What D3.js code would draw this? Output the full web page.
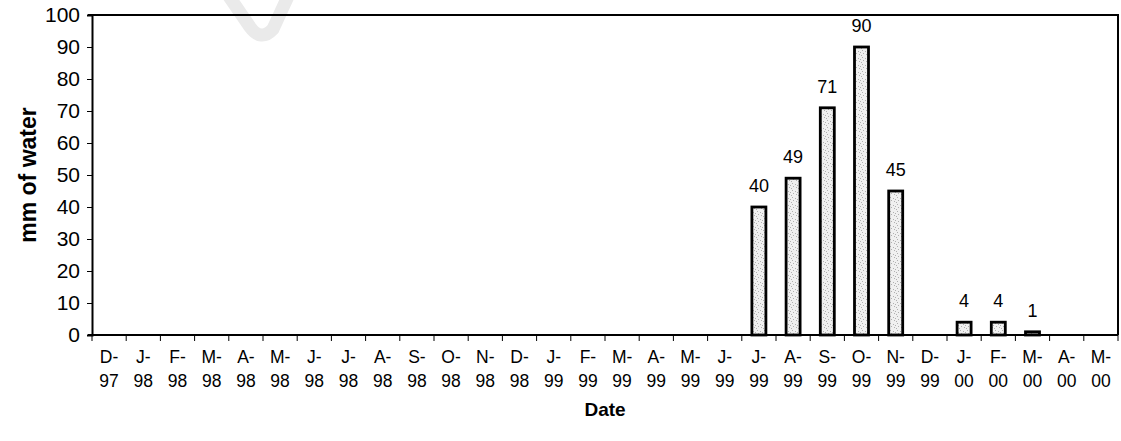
<!DOCTYPE html>
<html>
<head>
<meta charset="utf-8">
<script src="https://cdn.jsdelivr.net/npm/d3@7"></script>
<style>
  html, body { margin: 0; padding: 0; background: #fff; }
  svg { display: block; font-family: "Liberation Sans", Arial, sans-serif; }
</style>
</head>
<body>
<svg id="chart" width="1121" height="441"></svg>
<script>
// Monthly water applied, Dec 1997 – May 2000
const monthLetters = ["D","J","F","M","A","M","J","J","A","S","O","N",
                      "D","J","F","M","A","M","J","J","A","S","O","N",
                      "D","J","F","M","A","M"];
const yearLabels = ["97","98","98","98","98","98","98","98","98","98","98","98",
                    "98","99","99","99","99","99","99","99","99","99","99","99",
                    "99","00","00","00","00","00"];
const waterMm = [null,null,null,null,null,null,null,null,null,null,null,null,
                 null,null,null,null,null,null,null,40,49,71,90,45,
                 null,4,4,1,null,null];
const yTicks = [0,10,20,30,40,50,60,70,80,90,100];

const categories = monthLetters.map((m, i) => i);

const svg = d3.select("#chart");
const margin = { left: 92, right: 3, top: 15, bottom: 106 };
const W = 1121, H = 441;
const x0 = margin.left, x1 = W - margin.right;
const y0 = H - margin.bottom, y1 = margin.top;

const x = d3.scaleBand().domain(categories).range([x0, x1]).paddingInner(0).paddingOuter(0);
const y = d3.scaleLinear().domain([0, 100]).range([y0, y1]);

// stippled fill for the bars
const defs = svg.append("defs");
const pat = defs.append("pattern").attr("id", "stipple")
  .attr("patternUnits", "userSpaceOnUse").attr("width", 7).attr("height", 7);
pat.append("rect").attr("width", 7).attr("height", 7).attr("fill", "#f0f0f0");
[[1,1],[4,2],[2,4],[5,5],[0,6],[6,3]].forEach(([a,b]) =>
  pat.append("rect").attr("x", a).attr("y", b).attr("width", 1).attr("height", 1).attr("fill", "#b0b0b0"));

// faint paper mark near the top
svg.append("path")
  .attr("d", "M226,-8 L250,27 Q261,42 273,29 L290,-8")
  .attr("fill", "none").attr("stroke", "#eaeaea").attr("stroke-width", 13)
  .attr("stroke-linecap", "round");

// plot frame: top and right edges
svg.append("path")
  .attr("d", `M${x0 - 4},${y1} H${x1} V${y0}`)
  .attr("fill", "none").attr("stroke", "#000").attr("stroke-width", 2);

// bars
const barW = 14;
const data = categories.filter(i => waterMm[i] != null);
svg.append("g").selectAll("rect").data(data).join("rect")
  .attr("x", i => x(i) + x.bandwidth() / 2 - barW / 2)
  .attr("y", i => y(waterMm[i]))
  .attr("width", barW)
  .attr("height", i => y(0) - y(waterMm[i]))
  .attr("fill", "url(#stipple)")
  .attr("stroke", "#000").attr("stroke-width", 2.8);

// value labels
svg.append("g").selectAll("text").data(data).join("text")
  .attr("x", i => x(i) + x.bandwidth() / 2)
  .attr("y", i => y(waterMm[i]) - 15)
  .attr("text-anchor", "middle")
  .attr("font-size", 18)
  .text(i => waterMm[i]);

// y axis
const yAxis = svg.append("g").attr("transform", `translate(${x0},0)`)
  .call(d3.axisLeft(y).tickValues(yTicks).tickSize(5).tickPadding(7));
yAxis.select(".domain").attr("stroke-width", 2);
yAxis.selectAll("text").attr("font-size", 21).attr("font-family", "Liberation Sans, Arial, sans-serif");

// x axis with ticks on category boundaries
const xg = svg.append("g").attr("transform", `translate(0,${y0})`);
xg.append("line").attr("x1", x0 - 4).attr("x2", x1).attr("y1", 0).attr("y2", 0)
  .attr("stroke", "#000").attr("stroke-width", 2);
xg.selectAll("line.tick").data(categories.concat([categories.length])).join("line")
  .attr("class", "tick")
  .attr("x1", i => i < categories.length ? x(i) : x1)
  .attr("x2", i => i < categories.length ? x(i) : x1)
  .attr("y1", 0).attr("y2", 6).attr("stroke", "#000").attr("stroke-width", 1);
const lab = xg.selectAll("text.cat").data(categories).join("text")
  .attr("class", "cat")
  .attr("text-anchor", "middle")
  .attr("font-size", 17.5);
lab.append("tspan").attr("x", i => x(i) + x.bandwidth() / 2).attr("y", 28)
  .text(i => monthLetters[i] + "-");
lab.append("tspan").attr("x", i => x(i) + x.bandwidth() / 2).attr("y", 52)
  .text(i => yearLabels[i]);

// axis titles
svg.append("text")
  .attr("x", (x0 + x1) / 2).attr("y", 416)
  .attr("text-anchor", "middle").attr("font-size", 19).attr("font-weight", "bold")
  .text("Date");
svg.append("text")
  .attr("transform", `translate(36,${(y0 + y1) / 2}) rotate(-90)`)
  .attr("text-anchor", "middle").attr("font-size", 23).attr("font-weight", "bold")
  .text("mm of water");
</script>
</body>
</html>
